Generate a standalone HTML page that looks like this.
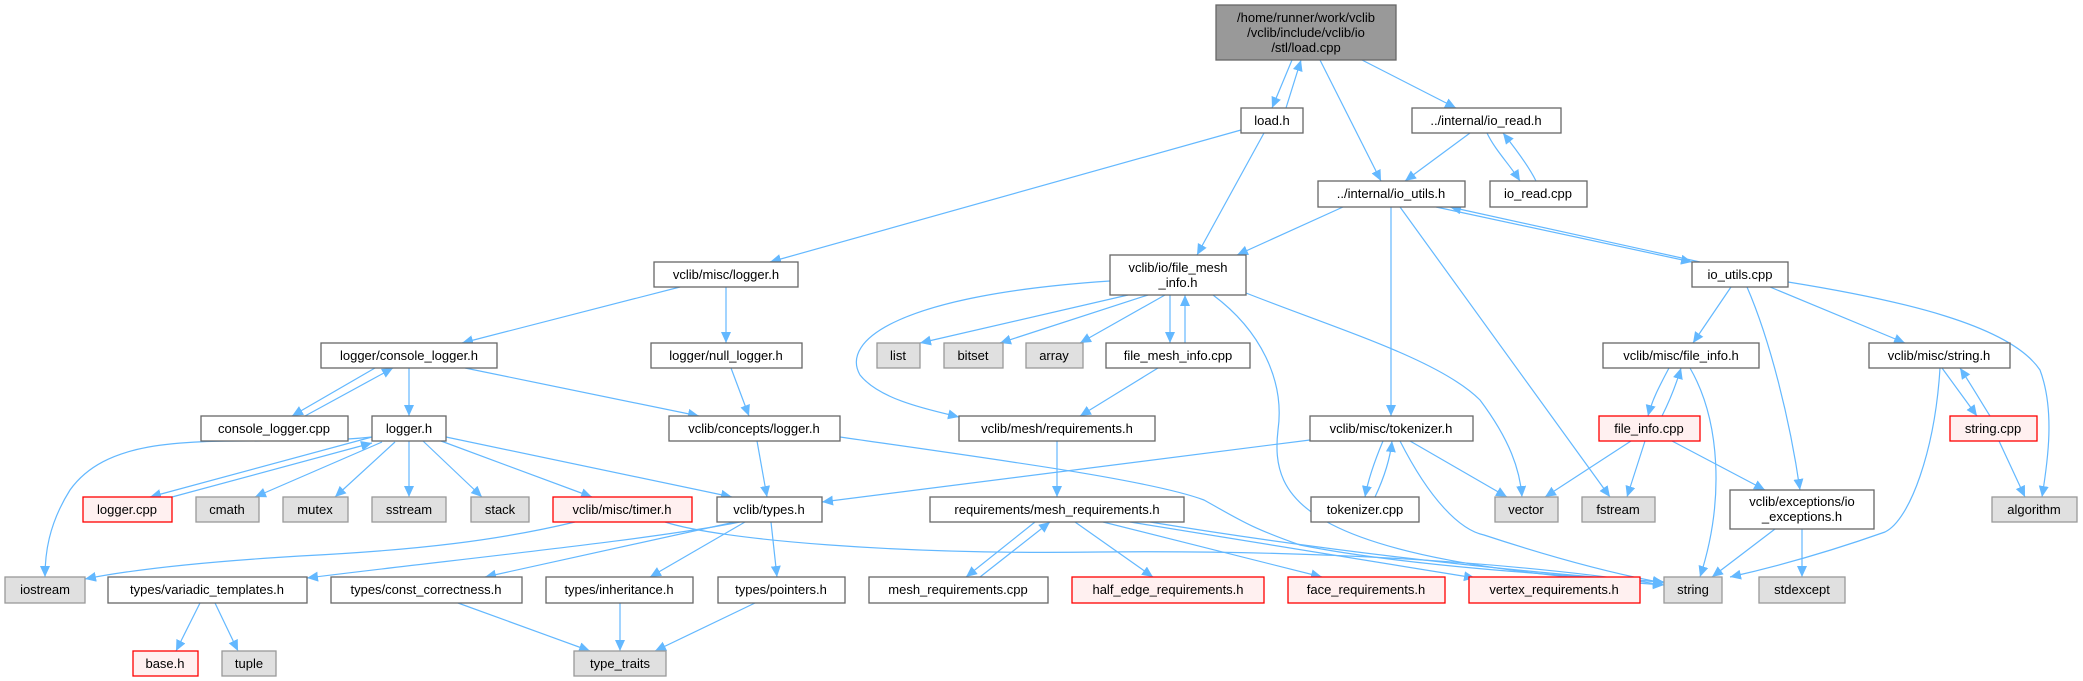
<!DOCTYPE html>
<html><head><meta charset="utf-8"><style>
html,body{margin:0;padding:0;background:#fff;}
svg{display:block;}
text{font-family:"Liberation Sans","DejaVu Sans",sans-serif;font-size:13px;fill:#000;}
.n rect{fill:#fff;stroke:#666;stroke-width:1.3;}
.g rect{fill:#e0e0e0;stroke:#999;stroke-width:1.3;}
.r rect{fill:#fff0f0;stroke:#f00;stroke-width:1.3;}
.e{fill:none;stroke:#63b8ff;stroke-width:1.2;marker-end:url(#a);}
</style></head><body>
<svg width="2083" height="681" viewBox="0 0 2083 681" xmlns="http://www.w3.org/2000/svg">
<defs><marker id="a" markerUnits="userSpaceOnUse" markerWidth="12" markerHeight="12" refX="11" refY="5" orient="auto"><path d="M0,0 L11,5 L0,10 z" fill="#63b8ff"/></marker></defs>
<g>
<path class="e" d="M1292,60 L1272,108"/>
<path class="e" d="M1286,108 L1301,60"/>
<path class="e" d="M1320,60 L1381,181"/>
<path class="e" d="M1362,60 L1456,108"/>
<path class="e" d="M1241,130 L770,262"/>
<path class="e" d="M1264,133 L1197,255"/>
<path class="e" d="M1470,133 L1405,181"/>
<path class="e" d="M1487,133 C1495,150 1510,165 1520,181"/>
<path class="e" d="M1536,181 C1528,165 1515,148 1503,133"/>
<path class="e" d="M1343,207 L1237,255"/>
<path class="e" d="M1436,207 L1692,262"/>
<path class="e" d="M1700,262 L1450,207"/>
<path class="e" d="M1391,207 L1391,416"/>
<path class="e" d="M1400,207 L1610,497"/>
<path class="e" d="M1731,287 L1693,343"/>
<path class="e" d="M1747,287 C1770,340 1790,420 1800,490"/>
<path class="e" d="M1770,287 L1905,343"/>
<path class="e" d="M1788,282 C1900,300 2010,325 2040,370 C2055,410 2048,460 2042,497"/>
<path class="e" d="M680,287 L462,343"/>
<path class="e" d="M726,287 L726,343"/>
<path class="e" d="M375,368 L292,416"/>
<path class="e" d="M305,416 L393,368"/>
<path class="e" d="M409,368 L409,416"/>
<path class="e" d="M465,368 L699,416"/>
<path class="e" d="M731,368 L749,416"/>
<path class="e" d="M757,441 L767,497"/>
<path class="e" d="M840,437 C1000,460 1150,480 1204,500 C1240,520 1249,527 1300,545 C1400,565 1550,575 1664,582"/>
<path class="e" d="M372,437 L150,497"/>
<path class="e" d="M172,497 L372,443"/>
<path class="e" d="M382,442 L255,497"/>
<path class="e" d="M395,442 L335,497"/>
<path class="e" d="M409,441 L409,497"/>
<path class="e" d="M423,441 L482,497"/>
<path class="e" d="M441,441 L592,497"/>
<path class="e" d="M446,437 L732,497"/>
<path class="e" d="M372,437 C250,450 120,420 70,490 C48,525 45,555 45,577"/>
<path class="e" d="M575,522 C500,540 420,550 300,556 C200,562 130,570 85,579"/>
<path class="e" d="M665,522 C720,540 900,555 1100,552 C1300,550 1500,560 1664,585"/>
<path class="e" d="M740,522 C650,540 450,560 307,578"/>
<path class="e" d="M735,522 L485,577"/>
<path class="e" d="M745,522 L650,577"/>
<path class="e" d="M771,522 L777,577"/>
<path class="e" d="M200,603 L176,651"/>
<path class="e" d="M215,603 L238,651"/>
<path class="e" d="M458,603 L590,651"/>
<path class="e" d="M620,603 L620,651"/>
<path class="e" d="M755,603 L655,651"/>
<path class="e" d="M1110,281 C900,295 840,340 860,375 C880,400 930,410 959,417"/>
<path class="e" d="M1128,295 L920,343"/>
<path class="e" d="M1148,295 L1000,343"/>
<path class="e" d="M1165,295 L1080,343"/>
<path class="e" d="M1170,295 L1170,343"/>
<path class="e" d="M1185,343 L1185,295"/>
<path class="e" d="M1246,293 C1340,330 1440,360 1480,400 C1510,440 1520,470 1522,497"/>
<path class="e" d="M1213,295 C1260,330 1285,380 1278,430 C1270,500 1300,560 1664,585"/>
<path class="e" d="M1158,368 L1080,416"/>
<path class="e" d="M1057,441 L1057,497"/>
<path class="e" d="M1035,522 L966,577"/>
<path class="e" d="M980,577 L1050,522"/>
<path class="e" d="M1075,522 L1153,577"/>
<path class="e" d="M1103,522 L1322,577"/>
<path class="e" d="M1130,522 L1475,578"/>
<path class="e" d="M1150,522 C1350,555 1550,575 1664,582"/>
<path class="e" d="M1310,440 L822,502"/>
<path class="e" d="M1383,441 C1375,460 1368,480 1365,497"/>
<path class="e" d="M1375,497 C1383,480 1390,460 1392,441"/>
<path class="e" d="M1410,441 L1507,497"/>
<path class="e" d="M1400,441 C1430,500 1460,530 1484,535 C1560,560 1620,575 1664,583"/>
<path class="e" d="M1669,368 C1660,385 1652,400 1648,416"/>
<path class="e" d="M1662,416 C1670,400 1676,385 1681,368"/>
<path class="e" d="M1690,368 C1720,420 1725,500 1700,577"/>
<path class="e" d="M1631,441 L1545,497"/>
<path class="e" d="M1645,441 L1627,497"/>
<path class="e" d="M1672,441 L1765,490"/>
<path class="e" d="M1775,529 L1712,577"/>
<path class="e" d="M1802,529 L1802,577"/>
<path class="e" d="M1942,368 L1977,416"/>
<path class="e" d="M1990,416 C1980,400 1970,383 1960,368"/>
<path class="e" d="M1940,368 C1935,450 1910,520 1885,532 C1820,555 1770,568 1730,577"/>
<path class="e" d="M1999,441 L2025,497"/>
</g>

<g class="n" style="">
<rect x="1216" y="5" width="180" height="55" style="fill:#999;stroke:#666"/>
</g>
<text x="1306" y="22" text-anchor="middle">/home/runner/work/vclib</text>
<text x="1306" y="37" text-anchor="middle">/vclib/include/vclib/io</text>
<text x="1306" y="52" text-anchor="middle">/stl/load.cpp</text>

<g class="n">
<rect x="1241" y="108" width="62" height="25"/>
<rect x="1412" y="108" width="149" height="25"/>
<rect x="1318" y="181" width="147" height="26"/>
<rect x="1490" y="181" width="97" height="26"/>
<rect x="1692" y="262" width="96" height="25"/>
<rect x="654" y="262" width="144" height="25"/>
<rect x="1110" y="255" width="136" height="40"/>
<rect x="321" y="343" width="176" height="25"/>
<rect x="651" y="343" width="151" height="25"/>
<rect x="1106" y="343" width="144" height="25"/>
<rect x="1603" y="343" width="156" height="25"/>
<rect x="1869" y="343" width="141" height="25"/>
<rect x="201" y="416" width="147" height="25"/>
<rect x="372" y="416" width="74" height="25"/>
<rect x="669" y="416" width="171" height="25"/>
<rect x="959" y="416" width="196" height="25"/>
<rect x="1310" y="416" width="163" height="25"/>
<rect x="717" y="497" width="105" height="25"/>
<rect x="930" y="497" width="254" height="25"/>
<rect x="1311" y="497" width="108" height="25"/>
<rect x="1730" y="490" width="144" height="39"/>
<rect x="108" y="577" width="199" height="26"/>
<rect x="331" y="577" width="191" height="26"/>
<rect x="546" y="577" width="147" height="26"/>
<rect x="718" y="577" width="127" height="26"/>
<rect x="869" y="577" width="179" height="26"/>
</g>
<g class="g">
<rect x="877" y="343" width="43" height="25"/>
<rect x="944" y="343" width="59" height="25"/>
<rect x="1026" y="343" width="57" height="25"/>
<rect x="196" y="497" width="63" height="25"/>
<rect x="283" y="497" width="65" height="25"/>
<rect x="372" y="497" width="74" height="25"/>
<rect x="471" y="497" width="58" height="25"/>
<rect x="1495" y="497" width="63" height="25"/>
<rect x="1582" y="497" width="73" height="25"/>
<rect x="1992" y="497" width="85" height="25"/>
<rect x="5" y="577" width="80" height="26"/>
<rect x="1664" y="577" width="58" height="26"/>
<rect x="1759" y="577" width="86" height="26"/>
<rect x="222" y="651" width="54" height="25"/>
<rect x="574" y="651" width="92" height="25"/>
</g>
<g class="r">
<rect x="1599" y="416" width="101" height="25"/>
<rect x="1950" y="416" width="87" height="25"/>
<rect x="83" y="497" width="89" height="25"/>
<rect x="553" y="497" width="139" height="25"/>
<rect x="1072" y="577" width="192" height="26"/>
<rect x="1288" y="577" width="157" height="26"/>
<rect x="1469" y="577" width="171" height="26"/>
<rect x="133" y="651" width="65" height="25"/>
</g>

<g text-anchor="middle">
<text x="1272" y="125">load.h</text>
<text x="1486" y="125">../internal/io_read.h</text>
<text x="1391" y="198">../internal/io_utils.h</text>
<text x="1538" y="198">io_read.cpp</text>
<text x="1740" y="279">io_utils.cpp</text>
<text x="726" y="279">vclib/misc/logger.h</text>
<text x="1178" y="272">vclib/io/file_mesh</text>
<text x="1178" y="287">_info.h</text>
<text x="409" y="360">logger/console_logger.h</text>
<text x="726" y="360">logger/null_logger.h</text>
<text x="1178" y="360">file_mesh_info.cpp</text>
<text x="1681" y="360">vclib/misc/file_info.h</text>
<text x="1939" y="360">vclib/misc/string.h</text>
<text x="898" y="360">list</text>
<text x="973" y="360">bitset</text>
<text x="1054" y="360">array</text>
<text x="274" y="433">console_logger.cpp</text>
<text x="409" y="433">logger.h</text>
<text x="754" y="433">vclib/concepts/logger.h</text>
<text x="1057" y="433">vclib/mesh/requirements.h</text>
<text x="1391" y="433">vclib/misc/tokenizer.h</text>
<text x="1649" y="433">file_info.cpp</text>
<text x="1993" y="433">string.cpp</text>
<text x="127" y="514">logger.cpp</text>
<text x="227" y="514">cmath</text>
<text x="315" y="514">mutex</text>
<text x="409" y="514">sstream</text>
<text x="500" y="514">stack</text>
<text x="622" y="514">vclib/misc/timer.h</text>
<text x="769" y="514">vclib/types.h</text>
<text x="1057" y="514">requirements/mesh_requirements.h</text>
<text x="1365" y="514">tokenizer.cpp</text>
<text x="1526" y="514">vector</text>
<text x="1618" y="514">fstream</text>
<text x="2034" y="514">algorithm</text>
<text x="1802" y="506">vclib/exceptions/io</text>
<text x="1802" y="521">_exceptions.h</text>
<text x="45" y="594">iostream</text>
<text x="207" y="594">types/variadic_templates.h</text>
<text x="426" y="594">types/const_correctness.h</text>
<text x="619" y="594">types/inheritance.h</text>
<text x="781" y="594">types/pointers.h</text>
<text x="958" y="594">mesh_requirements.cpp</text>
<text x="1168" y="594">half_edge_requirements.h</text>
<text x="1366" y="594">face_requirements.h</text>
<text x="1554" y="594">vertex_requirements.h</text>
<text x="1693" y="594">string</text>
<text x="1802" y="594">stdexcept</text>
<text x="165" y="668">base.h</text>
<text x="249" y="668">tuple</text>
<text x="620" y="668">type_traits</text>
</g>
</svg>
</body></html>
